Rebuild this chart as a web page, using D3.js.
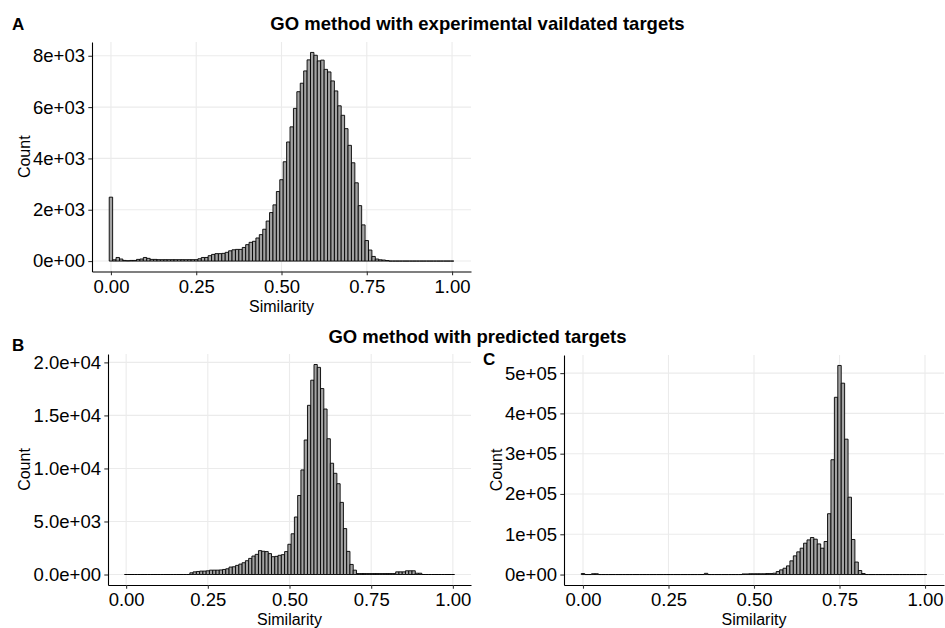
<!DOCTYPE html>
<html>
<head>
<meta charset="utf-8">
<script src="https://cdn.jsdelivr.net/npm/d3@7"></script>
<style>
body { margin: 0; background: #fff; }
text { font-family: "Liberation Sans", Arial, sans-serif; fill: #000; }
</style>
</head>
<body>
<div id="chart"></div>
<script>
// histogram bins, width 0.01, centred on 0.00 ... 1.00
var binWidth = 0.01
var similarity = d3.range(0, 101).map(i => i / 100)

// A: GO method, experimental validated targets
var countsA = [
  2490, 50, 140, 80, 25, 15, 25, 25, 65, 80,
  140, 105, 65, 65, 55, 55, 55, 55, 55, 55,
  55, 55, 55, 55, 55, 55, 90, 140, 140, 210,
  260, 290, 290, 300, 340, 400, 440, 455, 455, 530,
  640, 730, 770, 900, 1030, 1240, 1560, 1890, 2190, 2710,
  3170, 3870, 4640, 5230, 5950, 6600, 6930, 7410, 7840, 8130,
  8020, 7800, 7830, 7470, 7370, 7020, 6630, 6050, 5680, 5160,
  4510, 3830, 3050, 2160, 1410, 800, 430, 180, 80, 50,
  40, 20, 0, 0, 0, 0, 0, 0, 0, 0,
  0, 0, 0, 0, 0, 0, 0, 0, 0, 0,
  0
]

// B: GO method, predicted targets
var countsB = [
  0, 0, 0, 0, 0, 0, 0, 0, 0, 0,
  0, 0, 0, 0, 0, 0, 0, 0, 0, 0,
  160, 250, 285, 320, 320, 350, 410, 410, 410, 430,
  475, 540, 700, 730, 860, 980, 1110, 1300, 1520, 1740,
  1900, 2250, 2190, 2160, 1970, 1680, 1710, 1810, 1870, 2160,
  2850, 3840, 5420, 7450, 9860, 12680, 15950, 18320, 19800, 19530,
  17530, 15600, 12800, 10490, 9540, 8560, 6800, 4330, 2180, 950,
  410, 90, 90, 90, 90, 90, 90, 90, 90, 90,
  90, 90, 90, 250, 250, 250, 350, 350, 350, 120,
  120, 0, 0, 0, 0, 0, 0, 0, 0, 0,
  0
]

// C: predicted targets, second set
var countsC = [
  2500, 0, 0, 2000, 2000, 0, 0, 0, 0, 0,
  0, 0, 0, 0, 0, 0, 0, 0, 0, 0,
  0, 0, 0, 0, 0, 0, 0, 0, 0, 0,
  0, 0, 0, 0, 0, 0, 3000, 0, 0, 0,
  0, 0, 0, 0, 0, 0, 0, 1500, 1500, 2000,
  2000, 2000, 2000, 2000, 2500, 2500, 3300, 7500, 11600, 15700,
  21500, 34000, 46400, 56300, 65400, 77800, 86000, 91900, 87800, 76000,
  65400, 82000, 151000, 285000, 440000, 519000, 475000, 336000, 192000, 87000,
  31000, 10000, 2500, 0, 0, 0, 0, 0, 0, 0,
  0, 0, 0, 0, 0, 0, 0, 0, 0, 0,
  0
]

var xTicks = [0, 0.25, 0.5, 0.75, 1]
var xLabels = ["0.00", "0.25", "0.50", "0.75", "1.00"]
var yTicksA = [0, 2000, 4000, 6000, 8000]
var yLabelsA = ["0e+00", "2e+03", "4e+03", "6e+03", "8e+03"]
var yTicksB = [0, 5000, 10000, 15000, 20000]
var yLabelsB = ["0.0e+00", "5.0e+03", "1.0e+04", "1.5e+04", "2.0e+04"]
var yTicksC = [0, 100000, 200000, 300000, 400000, 500000]
var yLabelsC = ["0e+00", "1e+05", "2e+05", "3e+05", "4e+05", "5e+05"]

var titleTop = "GO method with experimental vaildated targets"
var titleBottom = "GO method with predicted targets"

var width = 945, height = 628

var svg = d3.select('#chart').append('svg')
  .attr('width', width)
  .attr('height', height)

var panels = [
  {tag: 'A', counts: countsA, yTicks: yTicksA, yLabels: yLabelsA,
   left: 92, right: 471, top: 42, bottom: 271.5, tagX: 12, tagY: 29.5},
  {tag: 'B', counts: countsB, yTicks: yTicksB, yLabels: yLabelsB,
   left: 108, right: 471, top: 354, bottom: 585, tagX: 12, tagY: 351},
  {tag: 'C', counts: countsC, yTicks: yTicksC, yLabels: yLabelsC,
   left: 564, right: 944, top: 355, bottom: 585, tagX: 483, tagY: 365}
]

let drawPanel = function(p) {
  // ggplot style 5% expansion round the data range
  var lo = -binWidth / 2, hi = 1 + binWidth / 2
  var padX = (hi - lo) * 0.05
  var x = d3.scaleLinear()
    .domain([lo - padX, hi + padX])
    .range([p.left, p.right])

  var ymax = d3.max(p.counts)
  var y = d3.scaleLinear()
    .domain([-0.05 * ymax, 1.05 * ymax])
    .range([p.bottom, p.top])

  var g = svg.append('g').attr('class', 'panel-' + p.tag)

  g.selectAll('.vgrid')
    .data(xTicks)
    .enter()
    .append('line')
    .attr('class', 'vgrid')
    .attr('x1', d => x(d)).attr('x2', d => x(d))
    .attr('y1', p.top).attr('y2', p.bottom)
    .attr('stroke', '#ebebeb')
    .attr('stroke-width', 1.1)

  g.selectAll('.hgrid')
    .data(p.yTicks)
    .enter()
    .append('line')
    .attr('class', 'hgrid')
    .attr('x1', p.left).attr('x2', p.right)
    .attr('y1', d => y(d)).attr('y2', d => y(d))
    .attr('stroke', '#ebebeb')
    .attr('stroke-width', 1.1)

  // bars as paths so empty bins still leave their outline on the baseline
  g.selectAll('.bar')
    .data(p.counts)
    .enter()
    .append('path')
    .attr('class', 'bar')
    .attr('d', function(d, i) {
      var x0 = x(similarity[i] - binWidth / 2)
      var x1 = x(similarity[i] + binWidth / 2)
      var y0 = y(0), y1 = y(d)
      return 'M' + x0 + ',' + y0 + 'V' + y1 + 'H' + x1 + 'V' + y0 + 'Z'
    })
    .attr('fill', '#a3a3a3')
    .attr('stroke', '#000')
    .attr('stroke-width', 0.9)

  var xAxis = g.append('g')
    .attr('transform', 'translate(0,' + p.bottom + ')')
    .call(d3.axisBottom(x)
      .tickValues(xTicks)
      .tickFormat((d, i) => xLabels[i])
      .tickSizeInner(3.7)
      .tickSizeOuter(0)
      .tickPadding(4.3))

  var yAxis = g.append('g')
    .attr('transform', 'translate(' + p.left + ',0)')
    .call(d3.axisLeft(y)
      .tickValues(p.yTicks)
      .tickFormat((d, i) => p.yLabels[i])
      .tickSizeInner(3.7)
      .tickSizeOuter(0)
      .tickPadding(3.3))

  ;[xAxis, yAxis].forEach(function(a) {
    a.attr('font-size', null).attr('font-family', null)
    a.select('.domain').attr('stroke', '#000').attr('stroke-width', 1.1)
    a.selectAll('.tick line').attr('stroke', '#333').attr('stroke-width', 1.1)
    a.selectAll('.tick text').style('font-size', '18.5px').attr('fill', '#000')
  })

  g.append('text')
    .attr('x', (p.left + p.right) / 2)
    .attr('y', p.bottom + 40)
    .attr('text-anchor', 'middle')
    .style('font-size', '16px')
    .text('Similarity')

  var bb = yAxis.node().getBBox()
  g.append('text')
    .attr('transform', 'translate(' + (p.left + bb.x - 3.5) + ',' + ((p.top + p.bottom) / 2) + ') rotate(-90)')
    .attr('text-anchor', 'middle')
    .style('font-size', '16px')
    .text('Count')

  svg.append('text')
    .attr('x', p.tagX)
    .attr('y', p.tagY)
    .style('font-size', '17px')
    .style('font-weight', 'bold')
    .text(p.tag)
}

panels.forEach(drawPanel)

svg.append('text')
  .attr('x', 477.5)
  .attr('y', 29.5)
  .attr('text-anchor', 'middle')
  .style('font-size', '18.5px')
  .style('font-weight', 'bold')
  .text(titleTop)

svg.append('text')
  .attr('x', 477.5)
  .attr('y', 342.5)
  .attr('text-anchor', 'middle')
  .style('font-size', '18.5px')
  .style('font-weight', 'bold')
  .text(titleBottom)
</script>
</body>
</html>
